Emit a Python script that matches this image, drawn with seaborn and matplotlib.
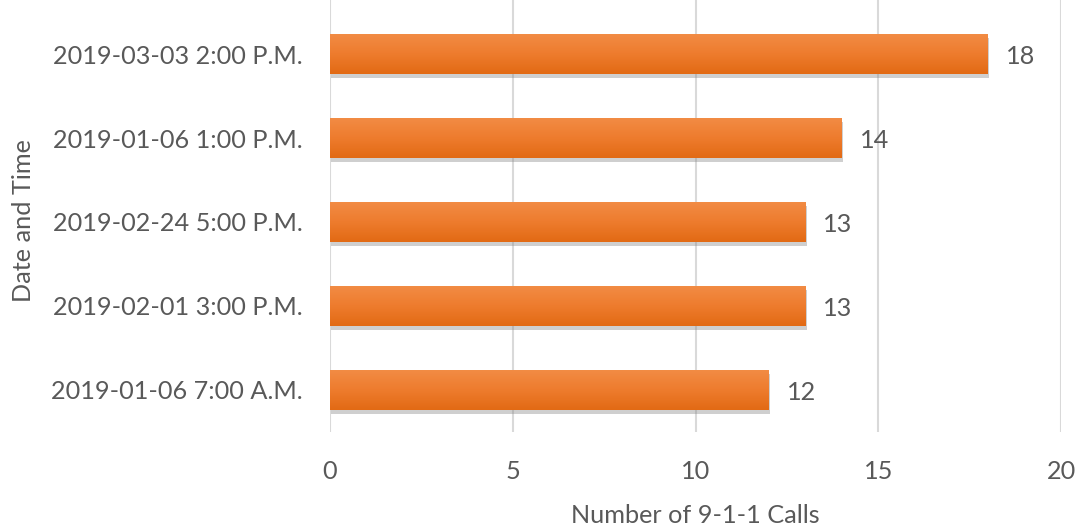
import numpy as np
import pandas as pd
import matplotlib
matplotlib.use("Agg")
import matplotlib.pyplot as plt
import matplotlib.patheffects as pe
from matplotlib.colors import LinearSegmentedColormap
import seaborn as sns

# Top five hours by number of 9-1-1 calls
categories = [
    "2019-03-03 2:00 P.M.",
    "2019-01-06 1:00 P.M.",
    "2019-02-24 5:00 P.M.",
    "2019-02-01 3:00 P.M.",
    "2019-01-06 7:00 A.M.",
]
calls = [18, 14, 13, 13, 12]
x_ticks = [0, 5, 10, 15, 20]

df = pd.DataFrame({"when": categories, "calls": calls})

sns.set_theme(style="white")
plt.rcParams["font.family"] = ["Lato", "DejaVu Sans"]
text_color = "#595959"
fs = 18.2

fig = plt.figure(figsize=(10.81, 5.29), dpi=100)
ax = fig.add_axes([0.3053, 0.1834, 0.6762, 0.8166])

sns.barplot(data=df, x="calls", y="when", orient="h", color="#ED7D31",
            width=0.48, saturation=1, ax=ax, zorder=3)

# Excel-like vertical gradient with a soft drop shadow on each bar
grad = LinearSegmentedColormap.from_list("bar", ["#F28C45", "#EE7C2E", "#E26A14"])
for bar in ax.patches:
    bar.set_edgecolor("none")
    bar.set_path_effects([pe.SimplePatchShadow(offset=(1, -3), shadow_rgbFace="#888888", alpha=0.4),
                          pe.Normal()])
    x0, y0 = bar.get_x(), bar.get_y()
    w, h = bar.get_width(), bar.get_height()
    img = ax.imshow(np.linspace(0, 1, 64).reshape(-1, 1), cmap=grad, aspect="auto",
                    extent=(x0, x0 + w, y0 + h, y0), origin="upper", zorder=4)
    img.set_clip_path(bar)

ax.set_xlim(0, 20)
ax.set_ylim(4.5, -0.643)
ax.set_xticks(x_ticks)
ax.grid(axis="x", color="#D9D9D9", linewidth=1.5, zorder=0)
for s in ax.spines.values():
    s.set_visible(False)

for i, v in enumerate(calls):
    ax.text(v + 0.5, i + 0.03, f"{v}", va="center", ha="left", fontsize=fs, color=text_color)

ax.yaxis.set_tick_params(which="major", length=0, pad=20, labelsize=fs, labelcolor=text_color)
ax.xaxis.set_tick_params(which="major", length=0, pad=20, labelsize=fs, labelcolor=text_color)
ax.set_xlabel("Number of 9-1-1 Calls", fontsize=fs, color=text_color, labelpad=15)
ax.set_ylabel("Date and Time", fontsize=fs, color=text_color)
ax.yaxis.set_label_coords(-0.404, 0.49)

fig.savefig("out.png", dpi=100)
